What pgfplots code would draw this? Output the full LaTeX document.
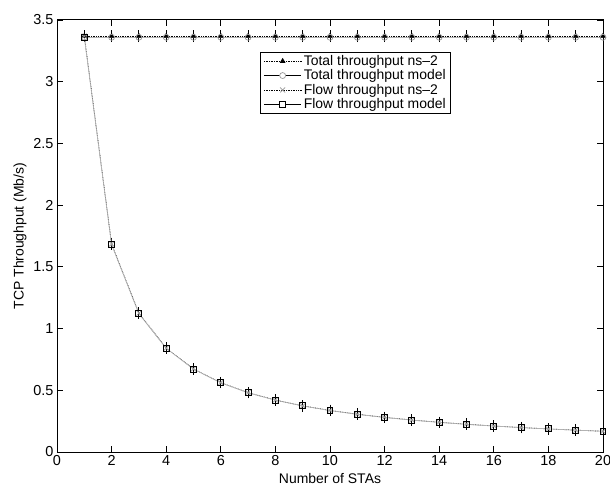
\documentclass[border=0pt]{standalone}
\usepackage{pgfplots}
\pgfplotsset{compat=1.18}
\usepackage{fontspec}
\setmainfont{Liberation Sans}
\definecolor{linegray}{gray}{0.7}
\definecolor{markgray}{gray}{0.6}
\begin{document}
\begin{tikzpicture}
\begin{axis}[
  scale only axis,
  width=546bp, height=432bp,
  xmin=0, xmax=20, ymin=0, ymax=3.5,
  xtick={0,2,...,20},
  ytick={0,0.5,...,3.5},
  yticklabel style={/pgf/number format/fixed},
  /pgf/number format/assume math mode=true,
  tick align=inside,
  major tick length=6bp,
  tick style={black, line width=0.8pt},
  axis line style={line width=1pt},
  ticklabel style={font=\fontsize{14.5}{16}\selectfont},
  label style={font=\fontsize{14}{16}\selectfont},
  xlabel={Number of STAs},
  ylabel={TCP Throughput (Mb/s)},
  xlabel style={at={(axis description cs:0.5,0)}, anchor=center, yshift=-27bp},
  ylabel style={at={(axis description cs:0,0.5)}, anchor=center, yshift=37bp},
  legend image code/.code={
    \draw[mark repeat=2, mark phase=2]
      plot coordinates {(0cm,0cm) (0.66cm,0cm) (1.32cm,0cm)};
  },
  legend style={
    at={(0.372,0.926)}, anchor=north west,
    draw=black, line width=0.8pt,
    font=\fontsize{14}{15}\selectfont,
    row sep=-1.2pt, inner xsep=3pt, inner ysep=1pt,
  },
  legend cell align=left,
]
% total throughput, simulation (with confidence bars)
\addplot[black, densely dotted, line width=0.7pt, mark=triangle*, mark size=2.6pt,
  mark options={solid, fill=black},
  error bars/.cd, y dir=both, y fixed=0.008,
  error mark=-, error mark options={black, solid, line width=1pt, mark size=5bp},
  error bar style={black, solid, line width=1pt}]
  coordinates {(1,3.37)(2,3.37)(3,3.37)(4,3.37)(5,3.37)(6,3.37)(7,3.37)(8,3.37)(9,3.37)(10,3.37)
               (11,3.37)(12,3.37)(13,3.37)(14,3.37)(15,3.37)(16,3.37)(17,3.37)(18,3.37)(19,3.37)(20,3.37)};
\addlegendentry{Total throughput ns--2}
% total throughput, analytical model
\addplot[linegray, line width=0.7pt, mark=o, mark size=3pt,
  mark options={markgray, solid},
  legend image code/.code={
    \draw[black, line width=0.9pt] (0cm,0cm) -- (1.32cm,0cm);
    \draw[markgray, line width=0.7pt, fill=white] (0.66cm,0cm) circle (3pt);
  }]
  coordinates {(1,3.36)(2,3.36)(3,3.36)(4,3.36)(5,3.36)(6,3.36)(7,3.36)(8,3.36)(9,3.36)(10,3.36)
               (11,3.36)(12,3.36)(13,3.36)(14,3.36)(15,3.36)(16,3.36)(17,3.36)(18,3.36)(19,3.36)(20,3.36)};
\addlegendentry{Total throughput model}
% per-flow throughput, simulation (with confidence bars)
\addplot[black, densely dotted, line width=0.7pt, mark=x, mark size=3.5pt,
  mark options={markgray, solid},
  error bars/.cd, y dir=both, y fixed=0.006,
  error mark=-, error mark options={black, solid, line width=1pt, mark size=5bp},
  error bar style={black, solid, line width=1pt}]
  coordinates {(1,3.37)(2,1.685)(3,1.125)(4,0.842)(5,0.673)(6,0.562)(7,0.481)(8,0.421)(9,0.374)(10,0.337)
               (11,0.306)(12,0.281)(13,0.259)(14,0.241)(15,0.225)(16,0.211)(17,0.198)(18,0.187)(19,0.177)(20,0.168)};
\addlegendentry{Flow throughput ns--2}
% per-flow throughput, analytical model
\addplot[linegray, line width=0.7pt, mark=square, mark size=3pt,
  mark options={black, solid, line width=1pt},
  legend image code/.code={
    \draw[black, line width=0.9pt] (0cm,0cm) -- (1.32cm,0cm);
    \draw[black, line width=1pt, fill=white] (0.66cm-3pt,-3pt) rectangle (0.66cm+3pt,3pt);
  }]
  coordinates {(1,3.36)(2,1.68)(3,1.12)(4,0.84)(5,0.672)(6,0.56)(7,0.48)(8,0.42)(9,0.373)(10,0.336)
               (11,0.305)(12,0.28)(13,0.258)(14,0.24)(15,0.224)(16,0.21)(17,0.198)(18,0.187)(19,0.177)(20,0.168)};
\addlegendentry{Flow throughput model}
\end{axis}
\pgfresetboundingbox
\path ([shift={(-57bp,-35bp)}]current axis.south west) rectangle ([shift={(7bp,20bp)}]current axis.north east);
\end{tikzpicture}
\end{document}
